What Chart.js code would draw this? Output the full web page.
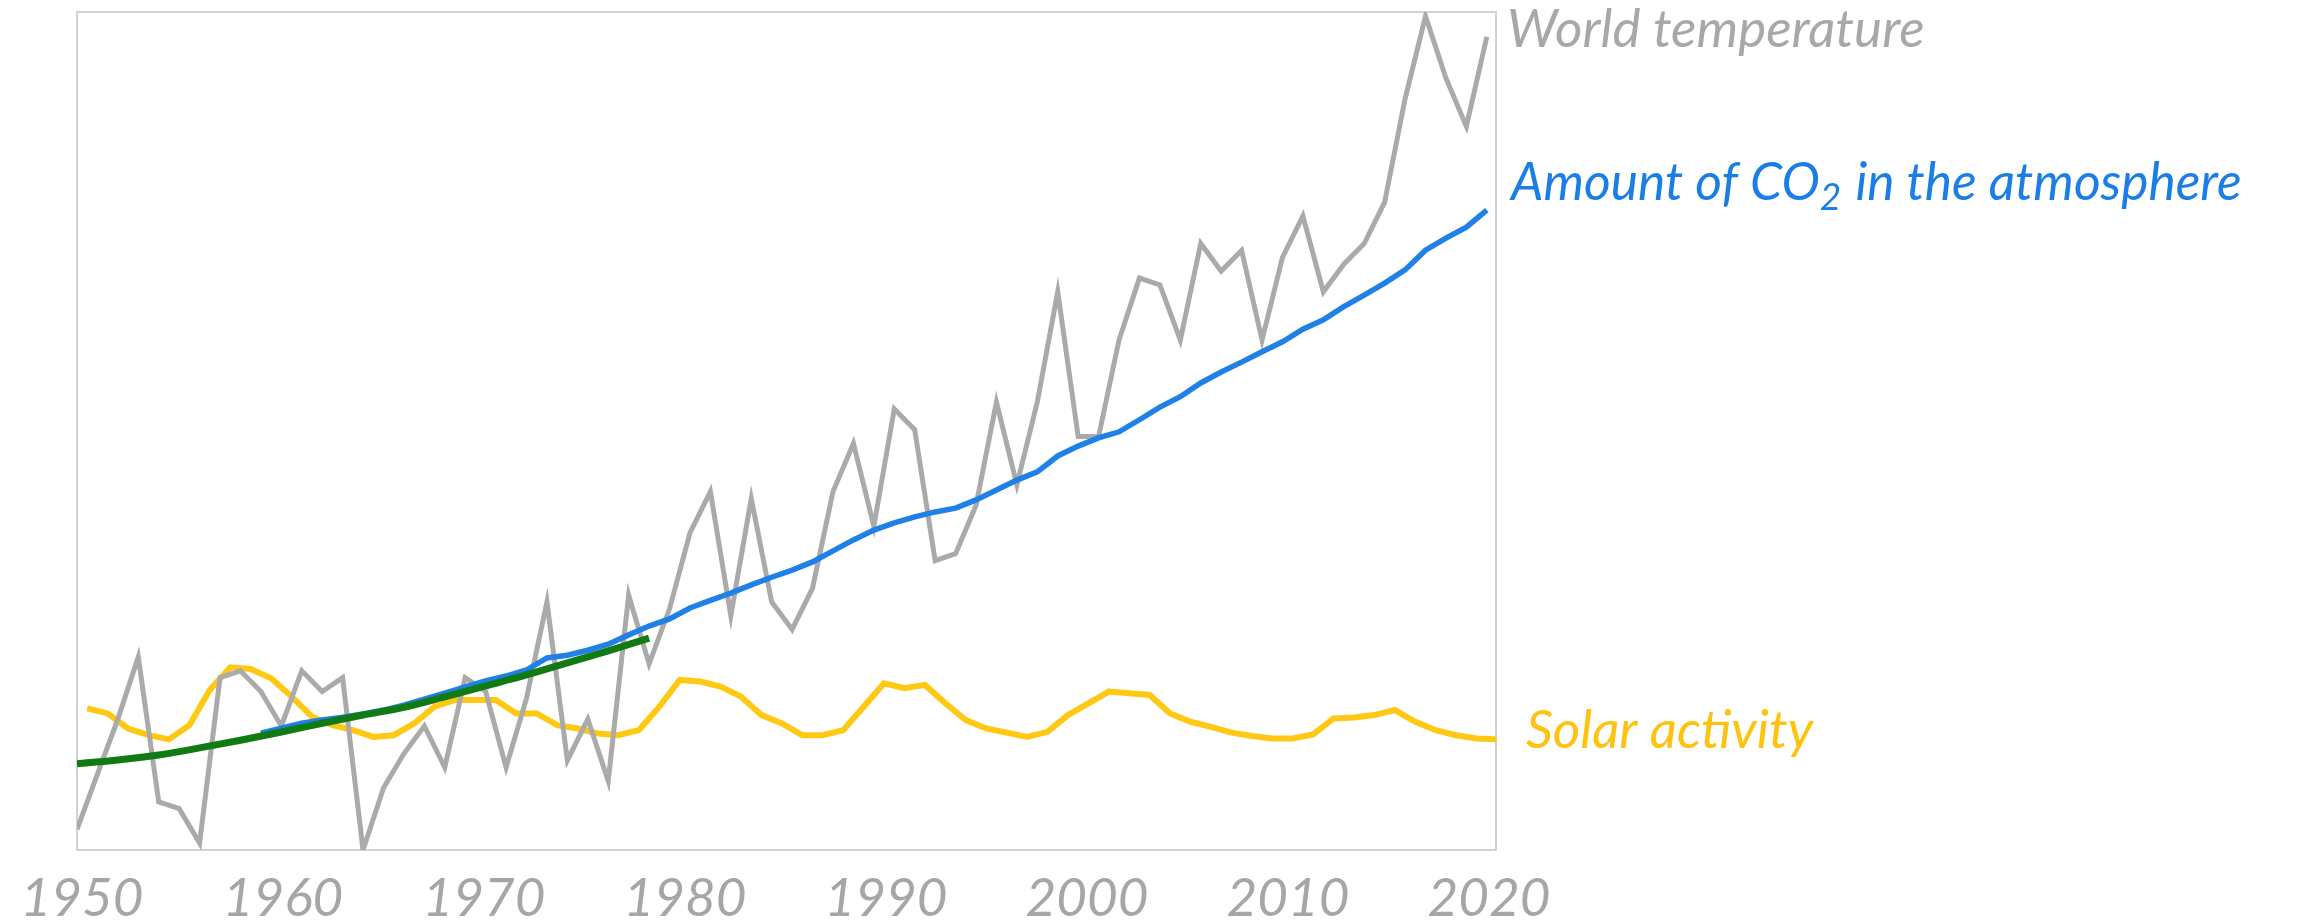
<!DOCTYPE html>
<html>
<head>
<meta charset="utf-8">
<title>World temperature, CO2 and solar activity</title>
<script src="https://cdn.jsdelivr.net/npm/chart.js"></script>
<style>
  html, body { margin: 0; padding: 0; background: #fff; overflow: hidden; }
  #wrap { width: 2303px; height: 922px; }
</style>
</head>
<body>
<div id="wrap"><canvas id="chart"></canvas></div>
<script>
// yearly values
const years = [
  1950, 1951, 1952, 1953, 1954, 1955, 1956, 1957, 1958, 1959,
  1960, 1961, 1962, 1963, 1964, 1965, 1966, 1967, 1968, 1969,
  1970, 1971, 1972, 1973, 1974, 1975, 1976, 1977, 1978, 1979,
  1980, 1981, 1982, 1983, 1984, 1985, 1986, 1987, 1988, 1989,
  1990, 1991, 1992, 1993, 1994, 1995, 1996, 1997, 1998, 1999,
  2000, 2001, 2002, 2003, 2004, 2005, 2006, 2007, 2008, 2009,
  2010, 2011, 2012, 2013, 2014, 2015, 2016, 2017, 2018, 2019
];

// temperature anomaly, °C
const temperature = [
  -0.17, -0.09, -0.01, 0.08, -0.13, -0.14, -0.19, 0.05, 0.06, 0.03,
  -0.02, 0.06, 0.03, 0.05, -0.20, -0.11, -0.06, -0.02, -0.08, 0.05,
  0.03, -0.08, 0.02, 0.16, -0.07, -0.01, -0.10, 0.17, 0.07, 0.15,
  0.26, 0.32, 0.14, 0.31, 0.16, 0.12, 0.18, 0.32, 0.39, 0.27,
  0.44, 0.41, 0.22, 0.23, 0.30, 0.45, 0.33, 0.45, 0.61, 0.40,
  0.40, 0.54, 0.63, 0.62, 0.54, 0.68, 0.64, 0.67, 0.54, 0.66,
  0.72, 0.61, 0.65, 0.68, 0.74, 0.89, 1.01, 0.92, 0.85, 0.98
];

// CO2 in ppm, 1959 - 2019
const co2Years = years.slice(9);
const co2 = [
  316.0, 316.9, 317.8, 318.4, 318.9, 319.5, 320.2, 321.1, 322.2, 323.3,
  324.4, 325.5, 326.4, 327.5, 329.7, 330.2, 331.1, 332.2, 333.9, 335.5,
  336.8, 338.8, 340.2, 341.5, 343.0, 344.4, 345.7, 347.2, 349.2, 351.2,
  353.0, 354.3, 355.4, 356.3, 357.0, 358.5, 360.3, 362.1, 363.6, 366.5,
  368.3, 369.8, 370.9, 373.1, 375.4, 377.3, 379.8, 381.8, 383.6, 385.5,
  387.3, 389.6, 391.3, 393.7, 395.8, 398.0, 400.4, 404.0, 406.2, 408.2,
  411.3
];

// green curve: CO2 trend up to 1978, ppm
const trendYears = [1950, 1952, 1954, 1956, 1958, 1960, 1962, 1964, 1966, 1968, 1970, 1972, 1974, 1976, 1978];
const co2Trend = [310.4, 311.1, 312.0, 313.3, 314.7, 316.2, 317.8, 319.3, 320.7, 322.6, 324.6, 326.6, 328.8, 331.0, 333.3];

// solar activity, relative index (yearly means, drawn at mid-year)
const solar = [
  16.9, 16.3, 14.5, 13.7, 13.2, 14.9, 19.1, 21.8, 21.6, 20.5,
  18.3, 15.9, 14.9, 14.3, 13.5, 13.7, 15.1, 17.1, 17.9, 17.9,
  17.9, 16.3, 16.3, 14.9, 14.5, 13.9, 13.7, 14.3, 17.1, 20.3,
  20.1, 19.5, 18.3, 16.1, 15.1, 13.7, 13.7, 14.3, 17.1, 19.9,
  19.3, 19.7, 17.5, 15.5, 14.5, 14.0, 13.5, 14.1, 16.1, 17.5,
  18.9, 18.7, 18.5, 16.3, 15.3, 14.7, 14.0, 13.6, 13.3, 13.3,
  13.8, 15.7, 15.8, 16.1, 16.7, 15.3, 14.3, 13.7, 13.3, 13.2
];

const tickYears = [1950, 1960, 1970, 1980, 1990, 2000, 2010, 2020];

const FONT = "Lato, 'Open Sans', sans-serif";
const frameColor = '#d2d2d2';

const pts = (xs, ys, shift = 0) => ys.map((v, i) => ({ x: xs[i] + shift, y: v }));

// names written at the right of the plot, next to the end of each line
const seriesLabels = [
  { dataset: 1, color: '#a8a8a8', size: 53, dx: 11, dy: 10, parts: [{ text: 'World temperature' }] },
  { dataset: 2, color: '#1a7ee6', size: 51.5, dx: 15, dy: -10,
    parts: [{ text: 'Amount of CO' }, { text: '2', sub: true }, { text: ' in the atmosphere' }] },
  { dataset: 3, color: '#ffc20e', size: 53, dx: 30, dy: 9, parts: [{ text: 'Solar activity' }] }
];

const labelPlugin = {
  id: 'seriesLabels',
  afterDatasetsDraw(chart) {
    const { ctx, chartArea } = chart;
    seriesLabels.forEach(spec => {
      const meta = chart.getDatasetMeta(spec.dataset);
      const last = meta.data[meta.data.length - 1];
      let x = chartArea.right + spec.dx;
      const y = last.y + spec.dy;
      ctx.save();
      ctx.fillStyle = spec.color;
      ctx.textBaseline = 'alphabetic';
      ctx.textAlign = 'left';
      spec.parts.forEach(p => {
        ctx.font = `italic 400 ${p.sub ? 37 : spec.size}px ${FONT}`;
        ctx.fillText(p.text, x, y + (p.sub ? 10 : 0));
        x += ctx.measureText(p.text).width + (p.sub ? 2 : 0);
      });
      ctx.restore();
    });
  }
};

const frameAxis = (position) => ({
  type: 'linear',
  position,
  min: -0.2,
  max: 1.016,
  ticks: { display: false },
  grid: { drawOnChartArea: false, drawTicks: false },
  border: { color: frameColor, width: 2 }
});

new Chart(document.getElementById('chart'), {
  type: 'line',
  data: {
    datasets: [
      {
        label: 'CO2 trend',
        data: pts(trendYears, co2Trend),
        xAxisID: 'x', yAxisID: 'yCo2',
        borderColor: '#127a12', borderWidth: 7,
        cubicInterpolationMode: 'monotone',
        pointRadius: 0, order: 0
      },
      {
        label: 'World temperature',
        data: pts(years, temperature),
        xAxisID: 'x', yAxisID: 'y',
        borderColor: '#aaaaaa', borderWidth: 5,
        tension: 0, pointRadius: 0, order: 2
      },
      {
        label: 'Amount of CO2 in the atmosphere',
        data: pts(co2Years, co2),
        xAxisID: 'x', yAxisID: 'yCo2',
        borderColor: '#1f80e8', borderWidth: 5.5,
        tension: 0, pointRadius: 0, order: 1
      },
      {
        label: 'Solar activity',
        data: pts(years, solar, 0.5),
        xAxisID: 'x', yAxisID: 'ySun',
        borderColor: '#ffc812', borderWidth: 6,
        tension: 0, pointRadius: 0, order: 3
      }
    ]
  },
  options: {
    responsive: true,
    maintainAspectRatio: false,
    animation: false,
    devicePixelRatio: 1,
    layout: { padding: { left: 77, right: 807, top: 12, bottom: 0 } },
    plugins: {
      legend: { display: false },
      tooltip: { enabled: false }
    },
    scales: {
      x: {
        type: 'linear',
        position: 'top',
        min: 1950,
        max: 2019.45,
        ticks: { display: false },
        grid: { drawOnChartArea: false, drawTicks: false },
        border: { color: frameColor, width: 2 }
      },
      // year labels sit on their own evenly spaced axis, as in the picture
      xYears: {
        type: 'linear',
        position: 'bottom',
        min: 1949.75,
        max: 2020.35,
        afterBuildTicks: axis => { axis.ticks = tickYears.map(v => ({ value: v })); },
        afterFit: axis => { axis.height = 72; axis.paddingLeft = 0; axis.paddingRight = 0; },
        ticks: {
          autoSkip: false,
          maxRotation: 0,
          padding: 22,
          color: '#a6a6a6',
          font: { family: FONT, size: 53, style: 'italic', weight: '400', lineHeight: 1 },
          callback: v => String(v)
        },
        grid: { display: false, drawTicks: false },
        border: { color: frameColor, width: 2 }
      },
      y: frameAxis('left'),
      yRight: frameAxis('right'),
      yCo2: { type: 'linear', display: false, min: 294.7, max: 447.4 },
      ySun: { type: 'linear', display: false, min: 0, max: 100 }
    }
  },
  plugins: [labelPlugin]
});
</script>
</body>
</html>
